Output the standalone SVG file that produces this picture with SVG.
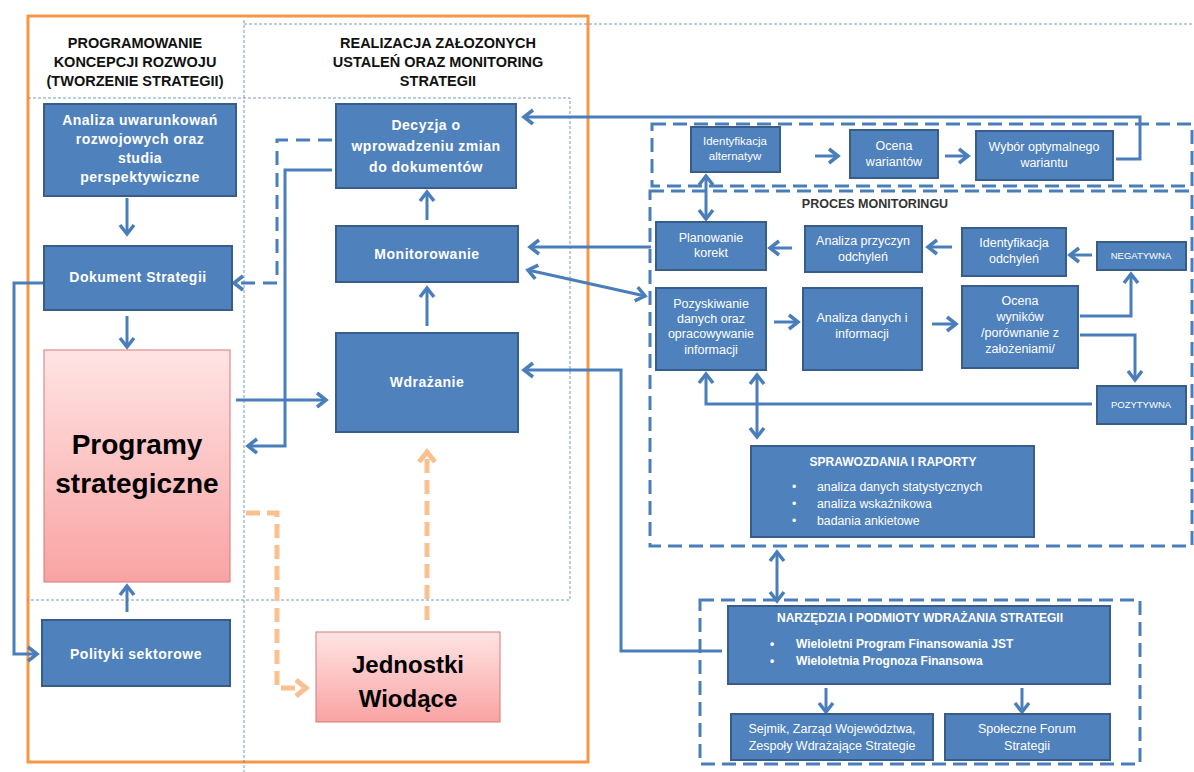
<svg xmlns="http://www.w3.org/2000/svg" width="1194" height="772" viewBox="0 0 1194 772">
<style>
.bx{fill:#4F81BD;stroke:#385D8A;stroke-width:2}
.pk{fill:url(#pg);stroke:#D47878;stroke-width:1}
.tb{font-family:"Liberation Sans",Arial,sans-serif;font-weight:bold;fill:#fff;text-anchor:middle}
.tm{font-family:"Liberation Sans",Arial,sans-serif;font-weight:bold;fill:#fff;text-anchor:middle;font-size:14px;letter-spacing:0.5px}
.tn{font-family:"Liberation Sans",Arial,sans-serif;fill:#fff;text-anchor:middle;font-size:12.5px}
.sm{font-size:9.5px}
.hd{font-family:"Liberation Sans",Arial,sans-serif;font-weight:bold;fill:#111;text-anchor:middle;font-size:14.5px}
.ln{fill:none;stroke:#4A7EBB;stroke-width:3}
.dsh{fill:none;stroke:#4A7EBB;stroke-width:3;stroke-dasharray:14 8}
.grp{fill:none;stroke:#4A7EBB;stroke-width:3;stroke-dasharray:14 7}
.dot{fill:none;stroke:#5B7FB0;stroke-width:0.8;stroke-dasharray:3 2}
.or{fill:none;stroke:#FAC090;stroke-width:5;stroke-dasharray:14 7}
</style>
<defs>
<linearGradient id="pg" x1="0" y1="0" x2="0" y2="1">
<stop offset="0" stop-color="#FFE4E4"/>
<stop offset="1" stop-color="#F9A3A3"/>
</linearGradient>
<marker id="a" markerUnits="userSpaceOnUse" markerWidth="16" markerHeight="18" refX="13" refY="9" orient="auto-start-reverse">
<path d="M4,2 L13,9 L4,16" fill="none" stroke="#4A7EBB" stroke-width="3.5"/>
</marker>
<marker id="o" markerUnits="userSpaceOnUse" markerWidth="18" markerHeight="20" refX="14" refY="10" orient="auto">
<path d="M4,2 L14,10 L4,18" fill="none" stroke="#FAC090" stroke-width="5"/>
</marker>
</defs>
<rect width="1194" height="772" fill="#fff"/>

<g id="frames">
<rect x="28" y="16" width="560" height="746" fill="none" stroke="#F79646" stroke-width="3"/>
<path class="dot" d="M244,20 V772 M244,24 H1194 M28,98 H570 V600 H28"/>
<rect class="grp" x="652" y="124" width="540" height="62"/>
<rect class="grp" x="650" y="191" width="542" height="355"/>
<rect class="grp" x="700" y="600" width="440" height="164"/>
</g>

<g id="headers">
<text class="hd" x="135" y="48">PROGRAMOWANIE</text>
<text class="hd" x="135" y="67">KONCEPCJI ROZWOJU</text>
<text class="hd" x="135" y="86">(TWORZENIE STRATEGII)</text>
<text class="hd" x="438" y="48">REALIZACJA ZAŁOZONYCH</text>
<text class="hd" x="438" y="67">USTALEŃ ORAZ MONITORING</text>
<text class="hd" x="438" y="86">STRATEGII</text>
<text x="875" y="208" font-family="Liberation Sans,Arial,sans-serif" font-weight="bold" font-size="12.5" fill="#333" text-anchor="middle">PROCES MONITORINGU</text>
</g>

<g id="connectors">
<path class="ln" marker-end="url(#a)" d="M127,198 V234"/>
<path class="ln" marker-end="url(#a)" d="M127,316 V347"/>
<path class="ln" marker-end="url(#a)" d="M127,612 V586"/>
<path class="ln" marker-end="url(#a)" d="M427,220 V192"/>
<path class="ln" marker-end="url(#a)" d="M427,326 V288"/>
<path class="dsh" marker-end="url(#a)" d="M332,140 H277 V283 H234"/>
<path class="ln" marker-end="url(#a)" d="M332,170 H285 V446 H248"/>
<path class="ln" marker-end="url(#a)" d="M236,400 H326"/>
<path class="ln" marker-end="url(#a)" d="M44,283 H14 V654 H37"/>
<path class="or" marker-end="url(#o)" d="M246,513 H277 V688 H306"/>
<path class="or" marker-end="url(#o)" d="M427,620 V452"/>
<path class="ln" marker-end="url(#a)" d="M1116,159 H1140 V117 H524"/>
<path class="ln" marker-end="url(#a)" d="M815,156 H838"/>
<path class="ln" marker-end="url(#a)" d="M945,156 H968"/>
<path class="ln" marker-start="url(#a)" marker-end="url(#a)" d="M706,176 V219"/>
<path class="ln" marker-end="url(#a)" d="M651,247 H530"/>
<path class="ln" marker-start="url(#a)" marker-end="url(#a)" d="M528,270 L645,296"/>
<path class="ln" marker-end="url(#a)" d="M1092,255 H1070"/>
<path class="ln" marker-end="url(#a)" d="M952,247 H928"/>
<path class="ln" marker-end="url(#a)" d="M792,248 H770"/>
<path class="ln" marker-end="url(#a)" d="M774,322 H798"/>
<path class="ln" marker-end="url(#a)" d="M932,324 H956"/>
<path class="ln" marker-end="url(#a)" d="M1080,316 H1131 V274"/>
<path class="ln" marker-end="url(#a)" d="M1080,335 H1135 V380"/>
<path class="ln" marker-end="url(#a)" d="M1092,404 H706 V374"/>
<path class="ln" marker-start="url(#a)" marker-end="url(#a)" d="M757,375 V437"/>
<path class="ln" marker-start="url(#a)" marker-end="url(#a)" d="M777,552 V601"/>
<path class="ln" marker-end="url(#a)" d="M722,651 H621 V370 H524"/>
<path class="ln" marker-end="url(#a)" d="M826,688 V712"/>
<path class="ln" marker-end="url(#a)" d="M1022,688 V712"/>
</g>

<g id="analiza">
<rect class="bx" x="44" y="104" width="192" height="92"/>
<text class="tm"><tspan x="140" y="125">Analiza uwarunkowań</tspan><tspan x="140" y="144">rozwojowych oraz</tspan><tspan x="140" y="163">studia</tspan><tspan x="140" y="182">perspektywiczne</tspan></text>
</g>
<g id="dokument">
<rect class="bx" x="44" y="246" width="188" height="64"/>
<text class="tm" x="138" y="282">Dokument Strategii</text>
</g>
<g id="programy">
<rect class="pk" x="44" y="350" width="186" height="232"/>
<text x="137" y="454" font-family="Liberation Sans,Arial,sans-serif" font-weight="bold" font-size="28" fill="#000" text-anchor="middle">Programy</text>
<text x="137" y="493" font-family="Liberation Sans,Arial,sans-serif" font-weight="bold" font-size="28" fill="#000" text-anchor="middle">strategiczne</text>
</g>
<g id="polityki">
<rect class="bx" x="42" y="620" width="188" height="66"/>
<text class="tm" x="136" y="659">Polityki sektorowe</text>
</g>
<g id="decyzja">
<rect class="bx" x="336" y="104" width="180" height="84"/>
<text class="tm"><tspan x="426" y="130">Decyzja o</tspan><tspan x="426" y="151">wprowadzeniu zmian</tspan><tspan x="426" y="172">do dokumentów</tspan></text>
</g>
<g id="monitorowanie">
<rect class="bx" x="336" y="226" width="182" height="56"/>
<text class="tm" x="427" y="259">Monitorowanie</text>
</g>
<g id="wdrazanie">
<rect class="bx" x="336" y="333" width="182" height="99"/>
<text class="tm" x="427" y="387">Wdrażanie</text>
</g>
<g id="jednostki">
<rect class="pk" x="316" y="632" width="184" height="90"/>
<text x="408" y="673" font-family="Liberation Sans,Arial,sans-serif" font-weight="bold" font-size="24" fill="#000" text-anchor="middle">Jednostki</text>
<text x="408" y="707" font-family="Liberation Sans,Arial,sans-serif" font-weight="bold" font-size="24" fill="#000" text-anchor="middle">Wiodące</text>
</g>

<g id="identyfikacja-alternatyw">
<rect class="bx" x="691" y="127" width="89" height="45"/>
<text class="tn" style="font-size:11.5px"><tspan x="735" y="145">Identyfikacja</tspan><tspan x="735" y="160">alternatyw</tspan></text>
</g>
<g id="ocena-wariantow">
<rect class="bx" x="850" y="130" width="88" height="48"/>
<text class="tn"><tspan x="894" y="150">Ocena</tspan><tspan x="894" y="166">wariantów</tspan></text>
</g>
<g id="wybor">
<rect class="bx" x="976" y="131" width="137" height="49"/>
<text class="tn"><tspan x="1044" y="151">Wybór optymalnego</tspan><tspan x="1044" y="167">wariantu</tspan></text>
</g>
<g id="planowanie">
<rect class="bx" x="656" y="222" width="110" height="48"/>
<text class="tn"><tspan x="711" y="242">Planowanie</tspan><tspan x="711" y="257">korekt</tspan></text>
</g>
<g id="analiza-przyczyn">
<rect class="bx" x="805" y="226" width="117" height="46"/>
<text class="tn"><tspan x="863" y="245">Analiza przyczyn</tspan><tspan x="863" y="261">odchyleń</tspan></text>
</g>
<g id="identyfikacja-odchylen">
<rect class="bx" x="962" y="228" width="104" height="48"/>
<text class="tn"><tspan x="1014" y="247">Identyfikacja</tspan><tspan x="1014" y="263">odchyleń</tspan></text>
</g>
<g id="negatywna">
<rect class="bx" x="1097" y="242" width="89" height="28"/>
<text class="tn sm" x="1141" y="259">NEGATYWNA</text>
</g>
<g id="pozyskiwanie">
<rect class="bx" x="656" y="288" width="110" height="82"/>
<text class="tn"><tspan x="711" y="308">Pozyskiwanie</tspan><tspan x="711" y="323">danych oraz</tspan><tspan x="711" y="338">opracowywanie</tspan><tspan x="711" y="354">informacji</tspan></text>
</g>
<g id="analiza-danych">
<rect class="bx" x="803" y="288" width="119" height="82"/>
<text class="tn"><tspan x="862" y="322">Analiza danych i</tspan><tspan x="862" y="338">informacji</tspan></text>
</g>
<g id="ocena-wynikow">
<rect class="bx" x="962" y="286" width="116" height="82"/>
<text class="tn"><tspan x="1020" y="305">Ocena</tspan><tspan x="1020" y="321">wyników</tspan><tspan x="1020" y="337">/porównanie z</tspan><tspan x="1020" y="353">założeniami/</tspan></text>
</g>
<g id="pozytywna">
<rect class="bx" x="1097" y="386" width="89" height="38"/>
<text class="tn sm" x="1141" y="408">POZYTYWNA</text>
</g>
<g id="sprawozdania">
<rect class="bx" x="751" y="446" width="283" height="91"/>
<text class="tb" font-size="12" x="893" y="466">SPRAWOZDANIA I RAPORTY</text>
<g font-family="Liberation Sans,Arial,sans-serif" font-size="12.3" fill="#fff">
<text x="792" y="491">•</text><text x="817" y="491">analiza danych statystycznych</text>
<text x="792" y="508">•</text><text x="817" y="508">analiza wskaźnikowa</text>
<text x="792" y="525">•</text><text x="817" y="525">badania ankietowe</text>
</g>
</g>
<g id="narzedzia">
<rect class="bx" x="728" y="606" width="382" height="78"/>
<text class="tb" font-size="12" x="920" y="622">NARZĘDZIA I PODMIOTY WDRAŻANIA STRATEGII</text>
<g font-family="Liberation Sans,Arial,sans-serif" font-weight="bold" font-size="12" fill="#fff">
<text x="770" y="648">•</text><text x="796" y="648">Wieloletni Program Finansowania JST</text>
<text x="770" y="665">•</text><text x="796" y="665">Wieloletnia Prognoza Finansowa</text>
</g>
</g>
<g id="sejmik">
<rect class="bx" x="731" y="714" width="202" height="46"/>
<text class="tn"><tspan x="832" y="733">Sejmik, Zarząd Województwa,</tspan><tspan x="832" y="750">Zespoły Wdrażające Strategie</tspan></text>
</g>
<g id="forum">
<rect class="bx" x="945" y="714" width="165" height="46"/>
<text class="tn"><tspan x="1027" y="733">Społeczne Forum</tspan><tspan x="1027" y="750">Strategii</tspan></text>
</g>
</svg>
